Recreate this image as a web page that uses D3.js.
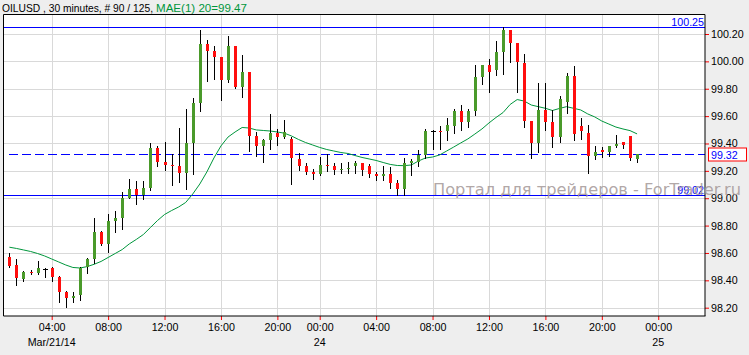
<!DOCTYPE html>
<html>
<head>
<meta charset="utf-8">
<script src="https://cdn.jsdelivr.net/npm/d3@7"></script>
<style>
  body { margin: 0; background: #eeeeee; }
  svg { display: block; font-family: "Liberation Sans", Arial, sans-serif; }
</style>
</head>
<body>
<div id="chart"></div>
<script>
// OHLC of the 90 visible 30-minute bars (bar index 0..89)
var opens = [98.573,98.510,98.410,98.461,98.456,98.485,98.490,98.424,98.315,98.273,
  98.295,98.495,98.556,98.753,98.668,98.836,98.858,99.004,99.068,99.024,
  99.077,99.369,99.267,99.243,99.238,99.184,99.406,99.698,100.129,100.076,
  100.032,99.864,100.112,99.815,99.922,99.455,99.382,99.426,99.479,99.447,
  99.431,99.287,99.236,99.192,99.177,99.243,99.236,99.206,99.216,99.236,
  99.255,99.236,99.179,99.165,99.177,99.111,99.068,99.255,99.267,99.316,
  99.491,99.491,99.486,99.533,99.640,99.559,99.640,99.888,99.974,99.937,
  100.071,100.229,100.132,99.990,99.564,99.401,99.645,99.559,99.450,99.705,
  99.893,99.528,99.475,99.304,99.352,99.336,99.382,99.409,99.455,99.287];
var highs = [98.598,98.556,98.465,98.473,98.541,98.487,98.495,98.432,98.322,98.315,
  98.500,98.563,98.853,98.763,98.885,98.907,99.046,99.141,99.126,99.126,
  99.404,99.382,99.411,99.321,99.515,99.652,99.732,100.229,100.156,100.112,
  100.035,100.185,100.115,100.049,99.925,99.482,99.433,99.616,99.506,99.572,
  99.450,99.333,99.260,99.214,99.301,99.323,99.257,99.255,99.265,99.272,
  99.260,99.252,99.194,99.236,99.230,99.131,99.296,99.285,99.352,99.506,
  99.499,99.530,99.584,99.650,99.681,99.650,99.974,99.976,100.015,100.149,
  100.250,100.232,100.135,100.054,99.567,99.844,99.844,99.645,99.749,99.913,
  99.966,99.588,99.535,99.382,99.377,99.385,99.462,99.413,99.458,99.323];
var lows = [98.500,98.368,98.397,98.444,98.446,98.427,98.397,98.244,98.207,98.244,
  98.259,98.456,98.525,98.658,98.607,98.756,98.777,99.000,98.958,98.994,
  99.060,99.236,99.206,99.099,99.119,99.070,99.179,99.640,99.859,99.871,
  99.718,99.852,99.806,99.742,99.347,99.311,99.267,99.360,99.391,99.442,
  99.104,99.206,99.177,99.138,99.170,99.201,99.177,99.182,99.187,99.182,
  99.170,99.157,99.133,99.133,99.077,99.020,99.024,99.170,99.238,99.296,
  99.360,99.360,99.426,99.475,99.499,99.523,99.608,99.835,99.778,99.900,
  99.908,99.998,99.778,99.523,99.296,99.336,99.499,99.377,99.413,99.621,
  99.426,99.431,99.182,99.285,99.299,99.311,99.377,99.369,99.279,99.263];
var closes = [98.510,98.412,98.461,98.454,98.490,98.485,98.427,98.315,98.273,98.286,
  98.490,98.556,98.753,98.668,98.834,98.856,99.002,99.068,99.024,99.075,
  99.369,99.267,99.243,99.238,99.184,99.406,99.698,100.129,100.078,100.034,
  99.866,100.112,99.811,99.922,99.457,99.382,99.426,99.479,99.450,99.482,
  99.289,99.238,99.194,99.179,99.243,99.236,99.209,99.214,99.223,99.255,
  99.206,99.177,99.163,99.177,99.111,99.068,99.255,99.272,99.316,99.491,
  99.491,99.484,99.533,99.640,99.559,99.640,99.888,99.974,99.925,100.071,
  100.229,100.132,99.990,99.564,99.401,99.645,99.559,99.450,99.725,99.893,
  99.469,99.494,99.309,99.336,99.338,99.382,99.396,99.384,99.292,99.320];
// MAE(1) 20
var maValues = [98.642,98.633,98.622,98.611,98.596,98.578,98.556,98.534,98.512,98.494,
  98.490,98.500,98.517,98.538,98.567,98.596,98.625,98.666,98.699,98.735,
  98.786,98.837,98.881,98.910,98.936,98.969,99.031,99.104,99.192,99.294,
  99.382,99.447,99.484,99.517,99.513,99.499,99.495,99.491,99.484,99.475,
  99.455,99.429,99.407,99.389,99.371,99.356,99.345,99.334,99.327,99.312,
  99.298,99.287,99.276,99.261,99.247,99.239,99.238,99.243,99.272,99.294,
  99.301,99.316,99.345,99.374,99.404,99.433,99.469,99.506,99.550,99.590,
  99.626,99.685,99.721,99.710,99.681,99.669,99.657,99.641,99.656,99.669,
  99.657,99.645,99.616,99.594,99.564,99.542,99.520,99.506,99.494,99.470];

var yTicks = [98.2,98.4,98.6,98.8,99.0,99.2,99.4,99.6,99.8,100.0,100.2];
var xTickIdx = [6,14,22,30,38,44,52,60,68,76,84,92];
var xTickLabels = ["04:00","08:00","12:00","16:00","20:00","00:00","04:00","08:00","12:00","16:00","20:00","00:00"];
var dateIdx = [6,44,92];
var dateLabels = ["Mar/21/14","24","25"];
var levelHigh = 100.25, levelLow = 99.02, lastPrice = 99.32, maLast = 99.47;

var W = 749, H = 355;
var plot = {left: 3.5, right: 705, top: 14.5, bottom: 316};

var svg = d3.select("#chart").append("svg").attr("width", W).attr("height", H);
svg.append("rect").attr("width", W).attr("height", H).attr("fill", "#eeeeee");

var x = d3.scaleLinear().domain([-0.834, 98.63]).range([plot.left, plot.right]);
var y = d3.scaleLinear().domain([98.2, 100.2]).range([307.7, 34]);
function px(v){ return Math.round(v) + 0.5; }

svg.append("rect")
  .attr("x", plot.left).attr("y", plot.top)
  .attr("width", plot.right - plot.left).attr("height", plot.bottom - plot.top)
  .attr("fill", "#ffffff");

// grid
var grid = svg.append("g").attr("stroke", "#d9d9d9").attr("stroke-width", 1);
grid.selectAll("line.h").data(yTicks).enter().append("line")
  .attr("x1", plot.left).attr("x2", plot.right)
  .attr("y1", d => px(y(d))).attr("y2", d => px(y(d)));
grid.selectAll("line.v").data(xTickIdx.filter(d => x(d) < plot.right)).enter().append("line")
  .attr("y1", plot.top).attr("y2", plot.bottom)
  .attr("x1", d => px(x(d))).attr("x2", d => px(x(d)));

// level lines
svg.append("line").attr("x1", plot.left).attr("x2", plot.right)
  .attr("y1", px(y(levelHigh))).attr("y2", px(y(levelHigh))).attr("stroke", "#0000ff");
svg.append("line").attr("x1", plot.left).attr("x2", plot.right)
  .attr("y1", px(y(levelLow))).attr("y2", px(y(levelLow))).attr("stroke", "#0000ff");
svg.append("line").attr("x1", 9).attr("x2", plot.right)
  .attr("y1", px(y(lastPrice))).attr("y2", px(y(lastPrice)))
  .attr("stroke", "#0000ff").attr("stroke-dasharray", "9,4");

svg.append("text").attr("x", 704).attr("y", px(y(levelHigh)) - 2)
  .attr("text-anchor", "end").attr("font-size", "10.7px").attr("fill", "#0000ff")
  .text(levelHigh.toFixed(2));
svg.append("text").attr("x", 704).attr("y", px(y(levelLow)) - 1.5)
  .attr("text-anchor", "end").attr("font-size", "10.7px").attr("fill", "#0000ff")
  .text(levelLow.toFixed(2));

// moving average
var maLine = d3.line().x((d, i) => x(i)).y(d => y(d));
svg.append("path").datum(maValues).attr("d", maLine)
  .attr("fill", "none").attr("stroke", "#00963c").attr("stroke-width", 1);

// candles
var bars = d3.range(opens.length);
var candles = svg.append("g");
candles.selectAll("line.wick").data(bars).enter().append("line")
  .attr("x1", i => px(x(i))).attr("x2", i => px(x(i)))
  .attr("y1", i => Math.round(y(highs[i]))).attr("y2", i => Math.round(y(lows[i])) + 1)
  .attr("stroke", "#000");
candles.selectAll("rect.body").data(bars.filter(i => opens[i] != closes[i])).enter().append("rect")
  .attr("x", i => Math.round(x(i)) - 1)
  .attr("width", 3)
  .attr("y", i => Math.round(y(Math.max(opens[i], closes[i]))))
  .attr("height", i => Math.max(1, Math.round(Math.abs(y(opens[i]) - y(closes[i])))))
  .attr("fill", i => closes[i] > opens[i] ? "#4a9a2a" : "#ff0e0e");
candles.selectAll("line.doji").data(bars.filter(i => opens[i] == closes[i])).enter().append("line")
  .attr("x1", i => Math.round(x(i)) - 2).attr("x2", i => Math.round(x(i)) + 3)
  .attr("y1", i => px(y(opens[i]))).attr("y2", i => px(y(opens[i])))
  .attr("stroke", "#000");

// frame
svg.append("path")
  .attr("d", "M" + plot.left + "," + plot.bottom + "V" + plot.top + "H" + plot.right)
  .attr("fill", "none").attr("stroke", "#000");

// axes
var yAxis = d3.axisRight(y).tickValues(yTicks).tickSize(4).tickPadding(2)
  .tickFormat(d3.format(".2f"));
var gy = svg.append("g").attr("transform", "translate(" + plot.right + ",0)").call(yAxis);
var xAxis = d3.axisBottom(x).tickValues(xTickIdx).tickSize(4).tickPadding(3)
  .tickFormat((d, i) => xTickLabels[i]);
var gx = svg.append("g").attr("transform", "translate(0," + plot.bottom + ")").call(xAxis);
[gx, gy].forEach(function(g){
  g.select(".domain").attr("stroke", "#000").attr("d", null);
  g.selectAll(".tick line").attr("stroke", "#ff0000");
  g.selectAll(".tick text").attr("fill", "#000").attr("font-size", "10.7px")
    .attr("font-family", "'Liberation Sans', Arial, sans-serif");
});
gy.select(".domain").remove();
gx.select(".domain").remove();
svg.append("line").attr("x1", plot.left).attr("x2", plot.right + 0.5)
  .attr("y1", plot.bottom).attr("y2", plot.bottom).attr("stroke", "#000");
svg.append("line").attr("x1", plot.right).attr("x2", plot.right)
  .attr("y1", plot.top).attr("y2", plot.bottom).attr("stroke", "#000");

svg.selectAll("text.date").data(dateIdx).enter().append("text")
  .attr("x", d => x(d)).attr("y", 345.5).attr("text-anchor", "middle")
  .attr("font-size", "10.7px").attr("fill", "#000")
  .text((d, i) => dateLabels[i]);

// last price box
svg.append("rect").attr("x", 708.5).attr("y", px(y(lastPrice)) - 6.5)
  .attr("width", 38).attr("height", 13)
  .attr("fill", "#fff").attr("stroke", "#ff0000");
svg.append("text").attr("x", 711).attr("y", px(y(lastPrice)) + 4)
  .attr("font-size", "10.7px").attr("fill", "#0000ff").text(lastPrice.toFixed(2));

// title
svg.append("text").attr("x", 2).attr("y", 12).attr("font-size", "11.5px").attr("fill", "#000")
  .attr("textLength", 151).attr("lengthAdjust", "spacingAndGlyphs")
  .text("OILUSD , 30 minutes, # " + opens.length + " / 125,");
svg.append("text").attr("x", 156).attr("y", 12).attr("font-size", "11.5px").attr("fill", "#00963c")
  .attr("textLength", 91).attr("lengthAdjust", "spacingAndGlyphs")
  .text("MAE(1) 20=" + maLast.toFixed(2));

// watermark
svg.append("text").attr("x", 433).attr("y", 194.5)
  .attr("font-family", "'DejaVu Sans', Verdana, sans-serif").attr("font-size", "16.5px")
  .attr("fill", "#a89c9c").attr("fill-opacity", 0.9)
  .attr("textLength", 308).attr("lengthAdjust", "spacingAndGlyphs")
  .text("Портал для трейдеров - ForTrader.ru");
</script>
</body>
</html>
